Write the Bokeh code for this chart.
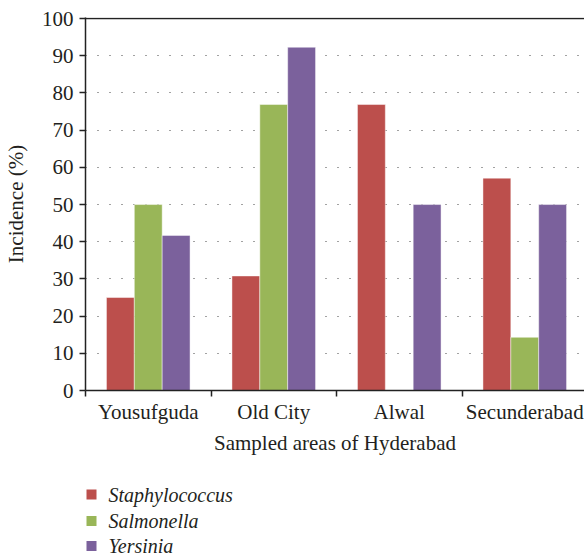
from bokeh.plotting import figure
from bokeh.layouts import column
from bokeh.models import Range1d, FixedTicker, Span, ColumnDataSource
from bokeh.core.properties import value
from bokeh.embed import file_html
from bokeh.resources import INLINE

areas = ["Yousufguda", "Old City", "Alwal", "Secunderabad"]
series = ["Staphylococcus", "Salmonella", "Yersinia"]
staphylococcus = [25.0, 30.8, 76.9, 57.1]
salmonella = [50.0, 76.9, 0.0, 14.3]
yersinia = [41.7, 92.3, 50.0, 50.0]
y_ticks = [0, 10, 20, 30, 40, 50, 60, 70, 80, 90, 100]
colors = ["#BC4F4C", "#99B658", "#7B619C"]

FONT = "Liberation Serif"
TXT = "#231F20"
FS = "21px"

W, H1, H2 = 584, 470, 86
LEFT = 85

p = figure(width=W, height=H1, output_backend="svg", toolbar_location=None,
           x_range=Range1d(0, 3.976), y_range=Range1d(0, 100.3),
           min_border_left=LEFT, min_border_right=0, min_border_top=17, min_border_bottom=80)
p.outline_line_color = None
p.background_fill_color = "white"
p.border_fill_color = "white"

centers = [i + 0.5 for i in range(len(areas))]
bw = 0.222
offsets = [-bw, 0.0, bw]
values = [staphylococcus, salmonella, yersinia]
for vals, off, col in zip(values, offsets, colors):
    src = ColumnDataSource(dict(x=[c + off for c in centers], top=vals))
    p.vbar(x="x", top="top", width=bw, bottom=0, source=src,
           fill_color=col, line_color="white", line_alpha=0.45, line_width=1)

# axes
xa = p.xaxis[0]
xa.ticker = FixedTicker(ticks=centers, minor_ticks=list(range(len(areas) + 1)))
xa.major_label_overrides = {c: a for c, a in zip(centers, areas)}
xa.major_tick_in = 0
xa.major_tick_out = 0
xa.minor_tick_in = 0
xa.minor_tick_out = 6
xa.minor_tick_line_color = "#222"
xa.minor_tick_line_width = 1.5
xa.axis_line_color = "#222"
xa.axis_line_width = 1.5
xa.major_label_standoff = 3
xa.major_label_text_font = FONT
xa.major_label_text_font_size = FS
xa.major_label_text_color = TXT
xa.axis_label = "Sampled areas of Hyderabad"
xa.axis_label_text_font = FONT
xa.axis_label_text_font_size = FS
xa.axis_label_text_font_style = "normal"
xa.axis_label_text_color = TXT
xa.axis_label_standoff = 4

ya = p.yaxis[0]
ya.ticker = FixedTicker(ticks=y_ticks, minor_ticks=[])
ya.major_tick_in = 0
ya.major_tick_out = 6
ya.major_tick_line_color = "#222"
ya.major_tick_line_width = 1.5
ya.axis_line_color = "#222"
ya.axis_line_width = 1.5
ya.major_label_standoff = 6
ya.major_label_text_font = FONT
ya.major_label_text_font_size = FS
ya.major_label_text_color = TXT
ya.axis_label = "Incidence (%)"
ya.axis_label_text_font = FONT
ya.axis_label_text_font_size = FS
ya.axis_label_text_font_style = "normal"
ya.axis_label_text_color = TXT
ya.axis_label_standoff = 11

p.xgrid.visible = False
p.ygrid.ticker = FixedTicker(ticks=y_ticks[1:-1], minor_ticks=[])
p.ygrid.grid_line_color = "#444"
p.ygrid.grid_line_dash = "1 11"
p.ygrid.grid_line_width = 1.2

top_line = Span(location=y_ticks[-1], dimension="width", line_color="#222", line_width=1.5)
p.add_layout(top_line)

# legend panel: its frame is aligned with the chart frame (starts at x=LEFT)
lg = figure(width=W, height=H2, output_backend="svg", toolbar_location=None,
            x_range=Range1d(LEFT, W), y_range=Range1d(H2, 0),
            x_axis_location=None, y_axis_location=None,
            min_border_left=LEFT, min_border_right=0, min_border_top=0, min_border_bottom=0)
lg.outline_line_color = None
lg.grid.visible = False
lg.background_fill_color = "white"
lg.border_fill_color = "white"
row_y = [24, 50.5, 75.5]
lsrc = ColumnDataSource(dict(x=[91] * len(series), y=row_y, tx=[108] * len(series),
                             label=series, color=colors))
lg.scatter(x="x", y="y", source=lsrc, marker="square", size=10, fill_color="color", line_color=None)
lg.text(x="tx", y="y", text="label", source=lsrc, text_font=value(FONT), text_font_size="20px",
        text_font_style="italic", text_color=TXT, text_baseline="middle", text_align="left")

layout = column(p, lg, spacing=0)
open("out.html", "w").write(file_html(layout, INLINE))
